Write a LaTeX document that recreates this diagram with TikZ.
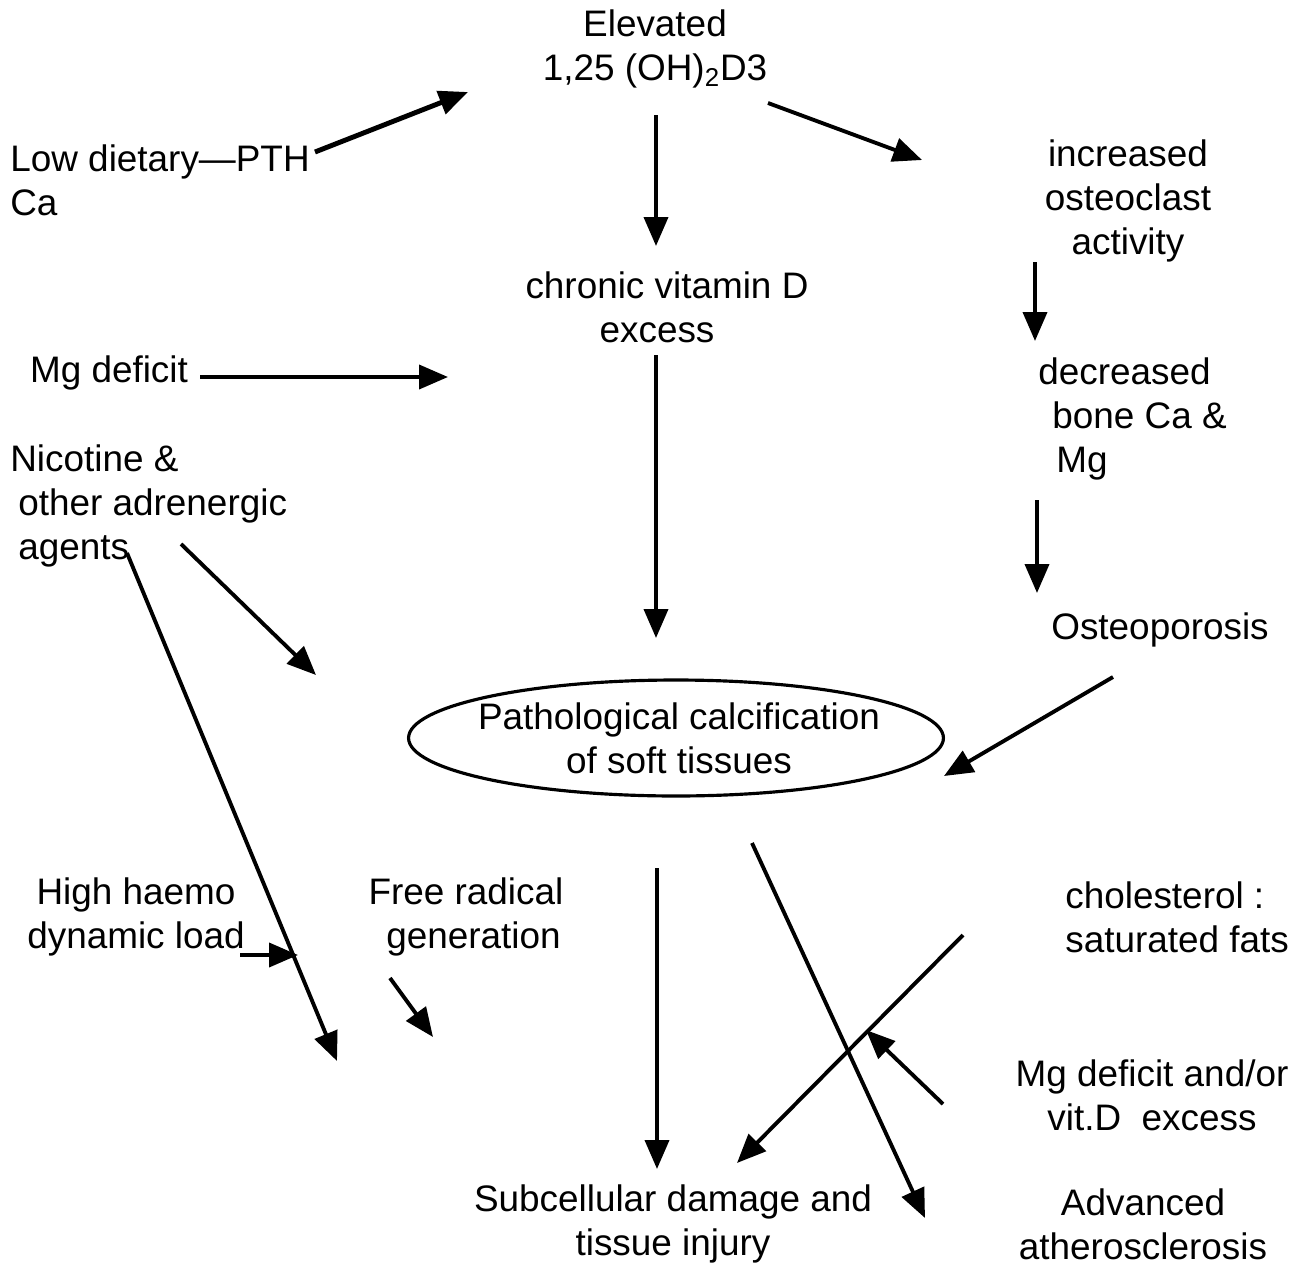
\documentclass[tikz,border=0pt]{standalone}
\usepackage{fontspec}
\setmainfont{Liberation Sans}
\usetikzlibrary{arrows.meta,shapes.geometric}
\begin{document}
\begin{tikzpicture}[x=0.02cm,y=-0.02cm,
  lbl/.style={inner sep=0pt, font=\fontsize{21}{25.2}\selectfont, align=center},
  lbll/.style={lbl, align=left, anchor=west},
  arr/.style={line width=2.2pt, -{Triangle[length=0.58cm,width=0.48cm]}},
  ellshape/.style={draw, ellipse, line width=1.8pt, minimum width=10.7cm, minimum height=2.32cm, inner sep=0pt}]
\useasboundingbox (0,0) rectangle (1306,1265);
\fill[white] (0,0) rectangle (1306,1265);

% text nodes
\node[lbl] (elev) at (655,49) {Elevated\\1,25 (OH)\textsubscript{2}D3};
\node[lbll] (low) at (10,180) {Low dietary---PTH\\Ca};
\node[lbl] (incr) at (1128,201) {increased\\osteoclast\\activity};
\node[lbl] (chron) at (667,307) {chronic vitamin D\\excess\kern0.4cm\relax};
\node[lbl] (mgd) at (109,373) {Mg deficit};
\node[lbll] (decr) at (1038,419) {decreased\\\hspace{0.28cm}bone Ca \&\\\hspace{0.36cm}Mg};
\node[lbll] (nic) at (10,506) {Nicotine \&\\\hspace{0.16cm}other adrenergic\\\hspace{0.16cm}agents};
\node[lbl] (ost) at (1160,630) {Osteoporosis};
\node[ellshape] (ell) at (676,738) {};
\node[lbl] (pc) at (679,738) {Pathological calcification\\of soft tissues};
\node[lbl] (high) at (136,917) {High haemo\\dynamic load};
\node[lbl] (free) at (466,917) {Free radical\\\hspace{0.3cm}generation};
\node[lbll] (chol) at (1065,917) {cholesterol :\\saturated fats};
\node[lbl] (mgv) at (1152,1095) {Mg deficit and/or\\vit.D\ \ excess};
\node[lbl] (sub) at (673,1224) {Subcellular damage and\\tissue injury};
\node[lbl] (adv) at (1143,1224) {Advanced\\atherosclerosis};

% connector end points
\coordinate (a1s) at (315,152);  \coordinate (a1e) at (468,92);
\coordinate (a2s) at (768,103);  \coordinate (a2e) at (922,160);
\coordinate (a3s) at (656,115);  \coordinate (a3e) at (656,246);
\coordinate (a4s) at (1035,262); \coordinate (a4e) at (1035,341);
\coordinate (a5s) at (200,377);  \coordinate (a5e) at (448,377);
\coordinate (a6s) at (656,355);  \coordinate (a6e) at (656,638);
\coordinate (a7s) at (1037,500); \coordinate (a7e) at (1037,593);
\coordinate (a8s) at (181,544);  \coordinate (a8e) at (316,675);
\coordinate (a9s) at (1113,677); \coordinate (a9e) at (944,776);
\coordinate (a10s) at (127,553); \coordinate (a10e) at (337,1061);
\coordinate (a11s) at (240,955); \coordinate (a11e) at (298,955);
\coordinate (a12s) at (390,978); \coordinate (a12e) at (433,1037);
\coordinate (a13s) at (657,868); \coordinate (a13e) at (657,1169);
\coordinate (a14s) at (752,843); \coordinate (a14e) at (925,1218);
\coordinate (a15s) at (963,935); \coordinate (a15e) at (737,1163);
\coordinate (a16s) at (943,1104);\coordinate (a16e) at (866,1030);

% connectors
\draw[arr, line width=2.8pt] (a1s) -- (a1e);
\draw[arr] (a2s) -- (a2e);
\draw[arr] (a3s) -- (a3e);
\draw[arr] (a4s) -- (a4e);
\draw[arr] (a5s) -- (a5e);
\draw[arr] (a6s) -- (a6e);
\draw[arr] (a7s) -- (a7e);
\draw[arr] (a8s) -- (a8e);
\draw[arr] (a9s) -- (a9e);
\draw[arr] (a10s) -- (a10e);
\draw[arr] (a11s) -- (a11e);
\draw[arr] (a12s) -- (a12e);
\draw[arr] (a13s) -- (a13e);
\draw[arr] (a14s) -- (a14e);
\draw[arr] (a15s) -- (a15e);
\draw[arr] (a16s) -- (a16e);
\end{tikzpicture}
\end{document}
